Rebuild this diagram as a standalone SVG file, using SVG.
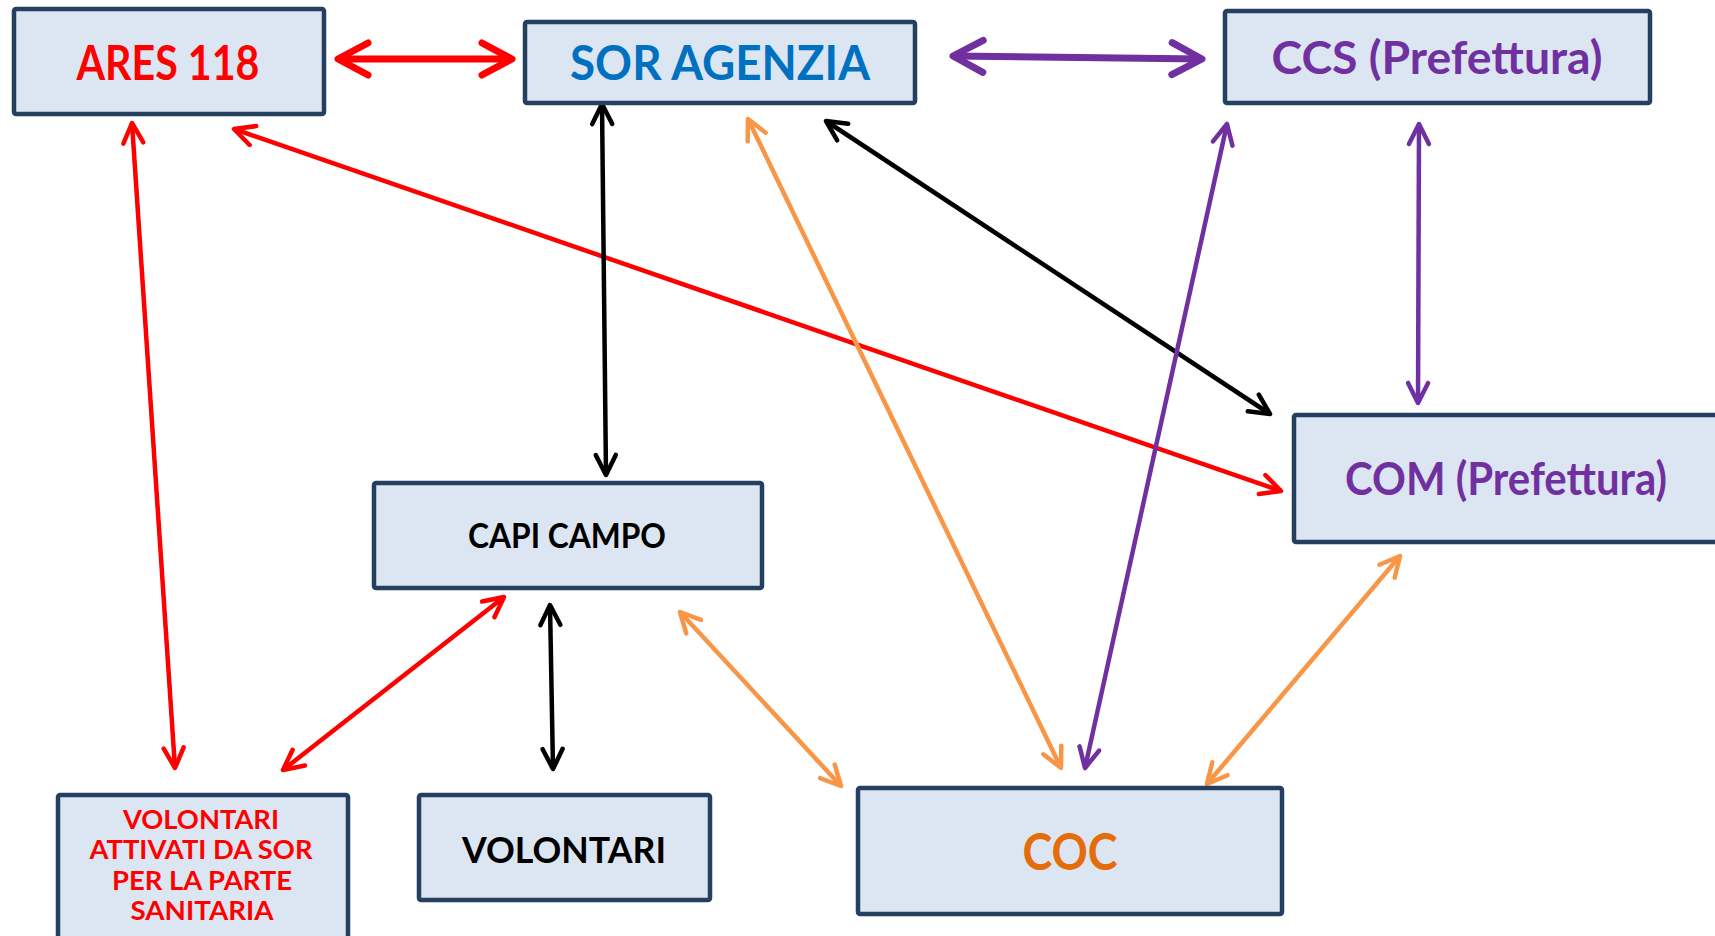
<svg xmlns="http://www.w3.org/2000/svg" width="1715" height="936" viewBox="0 0 1715 936">
<style>
.box{fill:#DCE6F2;stroke:#243F60;stroke-width:4.5}
.t{font-family:Lato,"Open Sans","Liberation Sans",sans-serif;font-weight:bold;text-anchor:middle}
.c{fill:none;stroke-linecap:butt}
.red{stroke:#FF0000}
.blk{stroke:#000000}
.org{stroke:#F79646}
.pur{stroke:#7030A0}
.thin{stroke-width:4.5}
.thick{stroke-width:7}
.mk{fill:none;stroke-linecap:round;stroke-linejoin:round}
</style>
<defs>
<marker id="aRed" markerUnits="userSpaceOnUse" viewBox="-30 -16 36 32" refX="0" refY="0" markerWidth="36" markerHeight="32" orient="auto-start-reverse" overflow="visible"><path class="mk" d="M-20,-10 L0,0 L-20,10" stroke="#FF0000" stroke-width="4.5"/></marker>
<marker id="aBlk" markerUnits="userSpaceOnUse" viewBox="-30 -16 36 32" refX="0" refY="0" markerWidth="36" markerHeight="32" orient="auto-start-reverse" overflow="visible"><path class="mk" d="M-20,-10 L0,0 L-20,10" stroke="#000000" stroke-width="4.5"/></marker>
<marker id="aOrg" markerUnits="userSpaceOnUse" viewBox="-30 -16 36 32" refX="0" refY="0" markerWidth="36" markerHeight="32" orient="auto-start-reverse" overflow="visible"><path class="mk" d="M-20,-10 L0,0 L-20,10" stroke="#F79646" stroke-width="4.5"/></marker>
<marker id="aPur" markerUnits="userSpaceOnUse" viewBox="-30 -16 36 32" refX="0" refY="0" markerWidth="36" markerHeight="32" orient="auto-start-reverse" overflow="visible"><path class="mk" d="M-20,-10 L0,0 L-20,10" stroke="#7030A0" stroke-width="4.5"/></marker>
<marker id="aRedT" markerUnits="userSpaceOnUse" viewBox="-40 -22 46 44" refX="0" refY="0" markerWidth="46" markerHeight="44" orient="auto-start-reverse" overflow="visible"><path class="mk" d="M-30,-16 L0,0 L-30,16" stroke="#FF0000" stroke-width="7"/></marker>
<marker id="aPurT" markerUnits="userSpaceOnUse" viewBox="-40 -22 46 44" refX="0" refY="0" markerWidth="46" markerHeight="44" orient="auto-start-reverse" overflow="visible"><path class="mk" d="M-30,-16 L0,0 L-30,16" stroke="#7030A0" stroke-width="7"/></marker>
</defs>
<rect width="1715" height="936" fill="#FFFFFF"/>

<g id="connectors">
<line class="c red thick" x1="338" y1="59" x2="512" y2="59" marker-start="url(#aRedT)" marker-end="url(#aRedT)"/>
<line class="c pur thick" x1="953" y1="56" x2="1202" y2="59" marker-start="url(#aPurT)" marker-end="url(#aPurT)"/>
<line class="c red thin" x1="132" y1="123" x2="175" y2="768" marker-start="url(#aRed)" marker-end="url(#aRed)"/>
<line class="c red thin" x1="234" y1="129" x2="1281" y2="491" marker-start="url(#aRed)" marker-end="url(#aRed)"/>
<line class="c blk thin" x1="602" y1="104" x2="606" y2="475" marker-start="url(#aBlk)" marker-end="url(#aBlk)"/>
<line class="c org thin" x1="748" y1="119" x2="1061" y2="768" marker-start="url(#aOrg)" marker-end="url(#aOrg)"/>
<line class="c blk thin" x1="826" y1="121" x2="1270" y2="414" marker-start="url(#aBlk)" marker-end="url(#aBlk)"/>
<line class="c pur thin" x1="1227" y1="124" x2="1085" y2="768" marker-start="url(#aPur)" marker-end="url(#aPur)"/>
<line class="c pur thin" x1="1419" y1="124" x2="1418" y2="403" marker-start="url(#aPur)" marker-end="url(#aPur)"/>
<line class="c red thin" x1="504" y1="597" x2="283" y2="770" marker-start="url(#aRed)" marker-end="url(#aRed)"/>
<line class="c blk thin" x1="550" y1="605" x2="553" y2="769" marker-start="url(#aBlk)" marker-end="url(#aBlk)"/>
<line class="c org thin" x1="680" y1="612" x2="841" y2="786" marker-start="url(#aOrg)" marker-end="url(#aOrg)"/>
<line class="c org thin" x1="1400" y1="556" x2="1207" y2="784" marker-start="url(#aOrg)" marker-end="url(#aOrg)"/>
</g>

<g id="ares118">
<rect class="box" x="14" y="9" width="310" height="105" rx="2"/>
<text class="t" x="168" y="80" font-size="47" fill="#FF0000" textLength="183" lengthAdjust="spacingAndGlyphs">ARES 118</text>
</g>
<g id="sor-agenzia">
<rect class="box" x="525" y="22" width="390" height="81" rx="2"/>
<text class="t" x="720" y="80" font-size="48" fill="#0070C0" textLength="300" lengthAdjust="spacingAndGlyphs">SOR AGENZIA</text>
</g>
<g id="ccs">
<rect class="box" x="1225" y="11" width="425" height="92" rx="2"/>
<text class="t" x="1437" y="74" font-size="46" fill="#7030A0" textLength="331" lengthAdjust="spacingAndGlyphs">CCS (Prefettura)</text>
</g>
<g id="com">
<rect class="box" x="1294" y="415" width="440" height="127" rx="2"/>
<text class="t" x="1506" y="495" font-size="46" fill="#7030A0" textLength="322" lengthAdjust="spacingAndGlyphs">COM (Prefettura)</text>
</g>
<g id="capi-campo">
<rect class="box" x="374" y="483" width="388" height="105" rx="2"/>
<text class="t" x="567" y="548" font-size="34" fill="#000000" textLength="198" lengthAdjust="spacingAndGlyphs">CAPI CAMPO</text>
</g>
<g id="volontari-sor">
<rect class="box" x="58" y="795" width="290" height="160" rx="2"/>
<text class="t" x="201" y="829" font-size="27" fill="#FF0000" textLength="156" lengthAdjust="spacingAndGlyphs">VOLONTARI</text>
<text class="t" x="201" y="859" font-size="27" fill="#FF0000" textLength="223" lengthAdjust="spacingAndGlyphs">ATTIVATI DA SOR</text>
<text class="t" x="202" y="890" font-size="27" fill="#FF0000" textLength="180" lengthAdjust="spacingAndGlyphs">PER LA PARTE</text>
<text class="t" x="202" y="920" font-size="27" fill="#FF0000" textLength="143" lengthAdjust="spacingAndGlyphs">SANITARIA</text>
</g>
<g id="volontari">
<rect class="box" x="419" y="795" width="291" height="105" rx="2"/>
<text class="t" x="564" y="863" font-size="36" fill="#000000" textLength="204" lengthAdjust="spacingAndGlyphs">VOLONTARI</text>
</g>
<g id="coc">
<rect class="box" x="858" y="788" width="424" height="126" rx="2"/>
<text class="t" x="1070" y="870" font-size="51" fill="#E46C0A" textLength="95" lengthAdjust="spacingAndGlyphs">COC</text>
</g>
</svg>
